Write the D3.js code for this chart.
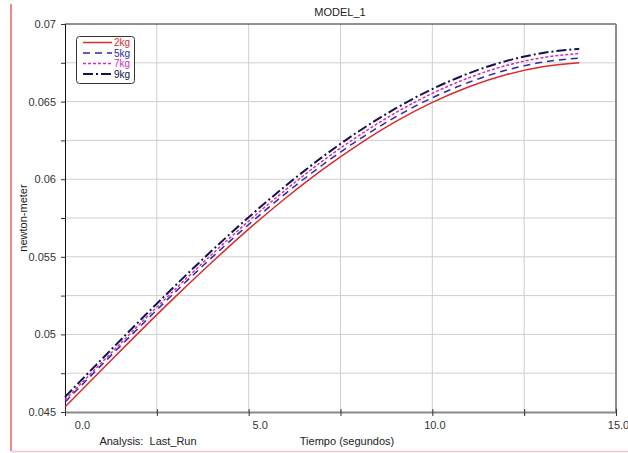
<!DOCTYPE html>
<html><head><meta charset="utf-8">
<script src="https://cdn.jsdelivr.net/npm/d3@7"></script>
<style>
body{margin:0;background:#fff;}
svg{display:block;font-family:"Liberation Sans",Arial,sans-serif;}
</style></head>
<body><svg id="c" width="628" height="453"></svg>
<script>
const title = "MODEL_1";
const xLabel = "Tiempo (segundos)";
const yLabel = "newton-meter";
const footLabel = "Analysis:  Last_Run";
const time = [0,1,2,3,4,5,6,7,8,9,10,11,12,13,14];
const seriesNames = ["2kg","5kg","7kg","9kg"];
const s2kg = [0.04532,0.04772,0.05010,0.05242,0.05465,0.05678,0.05877,0.06060,0.06225,0.06371,0.06495,0.06596,0.06673,0.06725,0.06751];
const s5kg = [0.04564,0.04804,0.05041,0.05273,0.05496,0.05708,0.05907,0.06090,0.06255,0.06401,0.06525,0.06625,0.06702,0.06754,0.06780];
const s7kg = [0.04577,0.04819,0.05058,0.05291,0.05516,0.05730,0.05930,0.06115,0.06281,0.06428,0.06553,0.06654,0.06732,0.06783,0.06810];
const s9kg = [0.04597,0.04840,0.05080,0.05314,0.05540,0.05755,0.05956,0.06142,0.06309,0.06456,0.06581,0.06683,0.06761,0.06813,0.06840];
const xTicks = [0,5,10,15];
const xTickLabels = ["0.0","5.0","10.0","15.0"];
const xMinor = [2.5,7.5,12.5];
const yTicks = [0.045,0.05,0.055,0.06,0.065,0.07];
const yTickLabels = ["0.045","0.05","0.055","0.06","0.065","0.07"];
const yMinor = [0.0475,0.0525,0.0575,0.0625,0.0675];

const allSeries = [s2kg,s5kg,s7kg,s9kg];
const colors = ["#dd2a2a","#2a2aa8","#d82ab8","#14144a"];
const dashes = [null,"7,5","3,2","10,3,2,3"];
const widths = [1.5,1.5,1.5,2];

const svg = d3.select("#c");
const L=65, R=616, T=24, B=412;
const x = d3.scaleLinear().domain([0,15]).range([L,R]);
const y = d3.scaleLinear().domain([0.045,0.07]).range([B,T]);

// outer frame lines
svg.append("line").attr("x1",11).attr("x2",11).attr("y1",4).attr("y2",451).attr("stroke","#e03a3a").attr("stroke-width",1.2);
svg.append("line").attr("x1",11).attr("x2",628).attr("y1",451.5).attr("y2",451.5).attr("stroke","#f6c6d4").attr("stroke-width",1.5);

// grid
const grid = svg.append("g").attr("stroke","#cfcfcf").attr("stroke-width",1);
xTicks.concat(xMinor).filter(v=>v>0&&v<15).forEach(v=>{
  grid.append("line").attr("x1",x(v)).attr("x2",x(v)).attr("y1",T).attr("y2",B);
});
yTicks.concat(yMinor).filter(v=>v>0.045&&v<0.07).forEach(v=>{
  grid.append("line").attr("x1",L).attr("x2",R).attr("y1",y(v)).attr("y2",y(v));
});

// borders
svg.append("line").attr("x1",L).attr("x2",R).attr("y1",T).attr("y2",T).attr("stroke","#222").attr("stroke-width",1);
svg.append("line").attr("x1",R).attr("x2",R).attr("y1",T).attr("y2",B).attr("stroke","#8a8a8a").attr("stroke-width",2);

// y axis
const yAxis = d3.axisLeft(y).tickValues(yTicks.concat(yMinor)).tickSize(4)
  .tickFormat(d=>{const i=yTicks.findIndex(v=>Math.abs(v-d)<1e-9);return i>=0?yTickLabels[i]:"";});
const gy = svg.append("g").attr("transform",`translate(${L},0)`).call(yAxis);
gy.select(".domain").attr("stroke","#111");
gy.selectAll(".tick line").attr("stroke","#333");
gy.selectAll("text").attr("font-size",11).attr("fill","#333").attr("x",-9).attr("font-family","Liberation Sans, Arial, sans-serif");

// x axis
const xAxis = d3.axisBottom(x).tickValues(xTicks.concat(xMinor)).tickSize(4).tickSizeOuter(0)
  .tickFormat(d=>{const i=xTicks.indexOf(d);return i>=0?xTickLabels[i]:"";});
const gx = svg.append("g").attr("transform",`translate(0,${B})`).call(xAxis);
gx.select(".domain").attr("stroke","#8a8a8a").attr("stroke-width",2);
gx.selectAll(".tick line").attr("stroke","#333").attr("y1",-3);
gx.selectAll("text").attr("font-size",11).attr("fill","#333").attr("y",9).attr("font-family","Liberation Sans, Arial, sans-serif")
  .attr("dx",d=>d===0?17:(d===5?11:(d===15?2:2)));

// lines
const line = d3.line().x((d,i)=>x(time[i])).y(d=>y(d)).curve(d3.curveMonotoneX);
allSeries.forEach((s,k)=>{
  const p = svg.append("path").datum(s).attr("d",line).attr("fill","none")
    .attr("stroke",colors[k]).attr("stroke-width",widths[k]);
  if(dashes[k]) p.attr("stroke-dasharray",dashes[k]);
});

// titles
svg.append("text").attr("x",340).attr("y",16).attr("text-anchor","middle").attr("font-size",11).attr("fill","#222").text(title);
svg.append("text").attr("x",347).attr("y",445).attr("text-anchor","middle").attr("font-size",11).attr("fill","#222").text(xLabel);
svg.append("text").attr("x",148).attr("y",445).attr("text-anchor","middle").attr("font-size",11).attr("fill","#222").attr("xml:space","preserve").style("white-space","pre").text(footLabel);
svg.append("text").attr("transform","translate(27,218) rotate(-90)").attr("text-anchor","middle").attr("font-size",11).attr("fill","#222").text(yLabel);

// legend
const lg = svg.append("g");
lg.append("rect").attr("x",76.5).attr("y",36.5).attr("width",58).attr("height",47).attr("rx",3)
  .attr("fill","#fff").attr("stroke","#333").attr("stroke-width",1);
seriesNames.forEach((n,k)=>{
  const yy = 42.5 + k*10.5;
  const l = lg.append("line").attr("x1",83).attr("x2",112).attr("y1",yy).attr("y2",yy)
    .attr("stroke",colors[k]).attr("stroke-width",widths[k]);
  if(dashes[k]) l.attr("stroke-dasharray",dashes[k]);
  lg.append("text").attr("x",130).attr("y",yy+3.5).attr("text-anchor","end").attr("font-size",10)
    .attr("fill",colors[k]).text(n);
});
</script></body></html>
